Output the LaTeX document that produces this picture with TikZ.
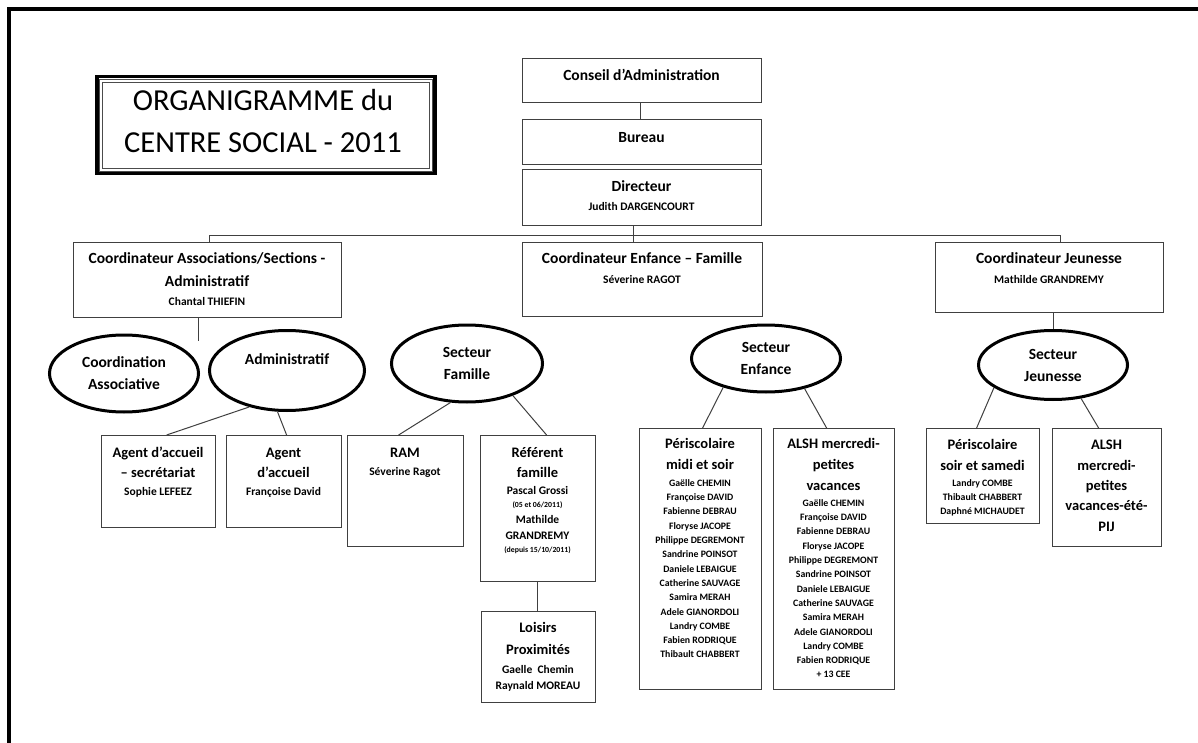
\documentclass[tikz,border=0pt]{standalone}
\usepackage{fontspec}
\setmainfont{Carlito}
\usetikzlibrary{shapes.geometric}
\pgfdeclarelayer{bg}
\pgfsetlayers{bg,main}
\newcounter{tlc}
\newcommand\txtline[4]{\stepcounter{tlc}\node[#1] (tl\arabic{tlc}) at (#2,#3) {#4};}
\begin{document}
\begin{tikzpicture}[x=1pt,y=-1pt,
  box/.style={draw=black!75, line width=1.2pt, inner sep=0pt, anchor=north west},
  ell/.style={ellipse, draw=black, line width=3pt, fill=white, inner sep=0pt, align=center,
     font=\fontsize{15.5}{22}\selectfont\bfseries},
  ln/.style={draw=black!75, line width=1pt},
  HT/.style={anchor=mid, yshift=-3pt, inner sep=0pt, font=\fontsize{15.5}{18}\selectfont\bfseries},
  BT/.style={anchor=mid, yshift=-3pt, inner sep=0pt, font=\fontsize{14.5}{18}\selectfont\bfseries},
  NM/.style={anchor=mid, yshift=-2.5pt, inner sep=0pt, font=\fontsize{11.5}{14}\selectfont\bfseries},
  LN/.style={anchor=mid, yshift=-2pt, inner sep=0pt, font=\fontsize{9.8}{12}\selectfont\bfseries},
  TN/.style={anchor=mid, yshift=-1.5pt, inner sep=0pt, font=\fontsize{7.8}{10}\selectfont\bfseries},
  TT/.style={anchor=mid, inner sep=0pt, font=\fontsize{30.5}{36}\selectfont}]
\useasboundingbox (0,0) rectangle (1198,743);
\fill[white] (0,0) rectangle (1198,743);
% page frame
\draw[line width=3.5pt] (9,745) -- (9,9) -- (1200,9);
% title
\node[draw, line width=3.5pt, minimum width=338pt, minimum height=97pt, inner sep=0pt, anchor=north west] (title) at (95,75) {};
\draw[black!70, line width=0.8pt] ([shift={(4,4)}]title.north west) rectangle ([shift={(-4,-4)}]title.south east);
\draw[black!70, line width=0.8pt] ([shift={(7,7)}]title.north west) rectangle ([shift={(-7,-7)}]title.south east);
\txtline{TT}{263}{108}{ORGANIGRAMME du}
\txtline{TT}{263}{150}{CENTRE SOCIAL - 2011}
% boxes
\node[box, minimum width=239pt, minimum height=44pt] (cons) at (522,58) {};
\node[box, minimum width=239pt, minimum height=45pt] (bur) at (522,119) {};
\node[box, minimum width=239pt, minimum height=56pt] (dir) at (522,169) {};
\node[box, minimum width=268pt, minimum height=75pt] (ca) at (73,242) {};
\node[box, minimum width=240pt, minimum height=74pt] (ce) at (522,242) {};
\node[box, minimum width=228pt, minimum height=70pt] (cj) at (935,242) {};
\node[box, minimum width=114pt, minimum height=92pt] (as) at (101,435) {};
\node[box, minimum width=115pt, minimum height=92pt] (aa) at (226,435) {};
\node[box, minimum width=116pt, minimum height=111pt] (ram) at (347,435) {};
\node[box, minimum width=115pt, minimum height=146pt] (ref) at (480,435) {};
\node[box, minimum width=114pt, minimum height=91pt] (loi) at (481,611) {};
\node[box, minimum width=122pt, minimum height=261pt] (pms) at (639,428) {};
\node[box, minimum width=121pt, minimum height=261pt] (al1) at (773,428) {};
\node[box, minimum width=113pt, minimum height=95pt] (pss) at (926,428) {};
\node[box, minimum width=109pt, minimum height=118pt] (al2) at (1052,428) {};
% ellipses
\node[ell, minimum width=149pt, minimum height=77pt] (eca) at (124,373.5) {Coordination\\Associative};
\node[ell, minimum width=155pt, minimum height=80pt] (ead) at (287,370.5) {Administratif\\\mbox{}};
\node[ell, minimum width=151pt, minimum height=77pt] (esf) at (467,363.5) {Secteur\\Famille};
\node[ell, minimum width=149pt, minimum height=67pt] (ese) at (766,358.5) {Secteur\\Enfance};
\node[ell, minimum width=149pt, minimum height=69pt] (esj) at (1053,365) {Secteur\\Jeunesse};
% texts in boxes
\txtline{HT}{641.5}{75}{Conseil d’Administration}
\txtline{HT}{641.5}{137}{Bureau}
\txtline{HT}{641.5}{186}{Directeur}
\txtline{NM}{641.5}{206}{Judith DARGENCOURT}
\txtline{HT}{207}{258}{Coordinateur Associations/Sections -}
\txtline{HT}{207}{281}{Administratif}
\txtline{NM}{207}{301}{Chantal THIEFIN}
\txtline{HT}{642}{258}{Coordinateur Enfance – Famille}
\txtline{NM}{642}{279}{Séverine RAGOT}
\txtline{HT}{1049}{258}{Coordinateur Jeunesse}
\txtline{NM}{1049}{279}{Mathilde GRANDREMY}
\txtline{BT}{158}{452}{Agent d’accueil}
\txtline{BT}{158}{472}{– secrétariat}
\txtline{NM}{158}{491}{Sophie LEFEEZ}
\txtline{BT}{283.5}{452}{Agent}
\txtline{BT}{283.5}{472}{d’accueil}
\txtline{NM}{283.5}{491}{Françoise David}
\txtline{BT}{405}{452}{RAM}
\txtline{NM}{405}{471}{Séverine Ragot}
\txtline{BT}{537.5}{452}{Référent}
\txtline{BT}{537.5}{472}{famille}
\txtline{NM}{537.5}{490}{Pascal Grossi}
\txtline{TN}{537.5}{504}{(05 et 06/2011)}
\txtline{NM}{537.5}{519}{Mathilde}
\txtline{NM}{537.5}{535}{GRANDREMY}
\txtline{TN}{537.5}{549}{(depuis 15/10/2011)}
\txtline{BT}{538}{627}{Loisirs}
\txtline{BT}{538}{649}{Proximités}
\txtline{NM}{538}{669}{Gaelle~~Chemin}
\txtline{NM}{538}{685}{Raynald MOREAU}
\txtline{BT}{700}{443}{Périscolaire}
\txtline{BT}{700}{464}{midi et soir}
\foreach \nm [count=\i from 0] in {Gaëlle CHEMIN,Françoise DAVID,Fabienne DEBRAU,Floryse JACOPE,Philippe DEGREMONT,Sandrine POINSOT,Daniele LEBAIGUE,Catherine SAUVAGE,Samira MERAH,Adele GIANORDOLI,Landry COMBE,Fabien RODRIQUE,Thibault CHABBERT}
  \node[LN] (pn\i) at (700,482+14.3*\i) {\nm};
\txtline{BT}{833.5}{443}{ALSH mercredi-}
\txtline{BT}{833.5}{464}{petites}
\txtline{BT}{833.5}{485}{vacances}
\foreach \nm [count=\i from 0] in {Gaëlle CHEMIN,Françoise DAVID,Fabienne DEBRAU,Floryse JACOPE,Philippe DEGREMONT,Sandrine POINSOT,Daniele LEBAIGUE,Catherine SAUVAGE,Samira MERAH,Adele GIANORDOLI,Landry COMBE,Fabien RODRIQUE,+ 13 CEE}
  \node[LN] (an\i) at (833.5,502+14.3*\i) {\nm};
\txtline{BT}{982.5}{444}{Périscolaire}
\txtline{BT}{982.5}{465}{soir et samedi}
\txtline{LN}{982.5}{482}{Landry COMBE}
\txtline{LN}{982.5}{496}{Thibault CHABBERT}
\txtline{LN}{982.5}{510}{Daphné MICHAUDET}
\txtline{BT}{1106.5}{444}{ALSH}
\txtline{BT}{1106.5}{465}{mercredi-}
\txtline{BT}{1106.5}{485}{petites}
\txtline{BT}{1106.5}{505}{vacances-été-}
\txtline{BT}{1106.5}{526}{PIJ}
% connectors
\coordinate (c0) at (640,0);
\coordinate (b1) at (209,236);
\coordinate (b2) at (633,236);
\coordinate (b3) at (1060,236);
\coordinate (j1) at (198,341);
\coordinate (j2) at (585,366);
\coordinate (j3) at (649,366);
\coordinate (j4) at (1053,0);
\coordinate (j5) at (537,0);
\draw[ln] (cons.south -| c0) -- (bur.north -| c0);
\draw[ln] (ca.north -| b1) -- (b1) -- (b3) -- (cj.north -| b3);
\draw[ln] (dir.south -| b2) -- (ce.north -| b2);
\draw[ln] (ca.south -| j1) -- (j1);
\begin{pgfonlayer}{bg}
\draw[ln] (eca.center |- j1) -- (ead.center |- j1);
\draw[ln] (ce.south -| j2) -- (j2) -- (esf.center |- j2);
\draw[ln] (ce.south -| j3) -- (j3) -- (ese.center |- j3);
\end{pgfonlayer}
\draw[ln] (cj.south -| j4) -- (esj.north);
\draw[ln] (ead.224) -- ([xshift=8pt]as.north);
\draw[ln] (ead.257.6) -- ([xshift=2.5pt]aa.north);
\draw[ln] (esf.247.4) -- ([xshift=-7pt]ram.north);
\draw[ln] (esf.325) -- ([xshift=8.5pt]ref.north);
\draw[ln] (ese.214.7) -- ([xshift=2pt]pms.north);
\draw[ln] (ese.322.5) -- ([xshift=-7.5pt]al1.north);
\draw[ln] (esj.201.8) -- ([xshift=-6.5pt]pss.north);
\draw[ln] (esj.310.6) -- ([xshift=-8.5pt]al2.north);
\draw[ln] (ref.south -| j5) -- (loi.north -| j5);
\end{tikzpicture}
\end{document}
